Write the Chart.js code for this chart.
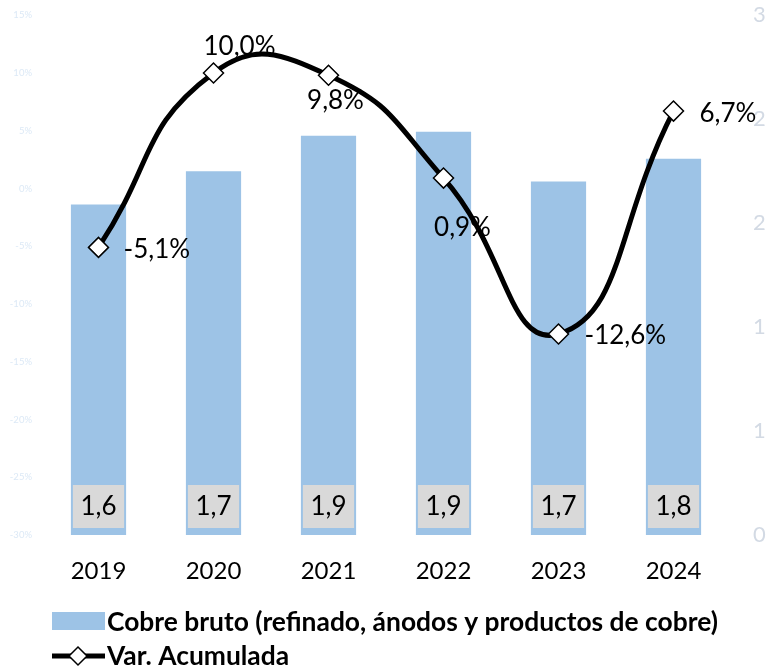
<!DOCTYPE html>
<html>
<head>
<meta charset="utf-8">
<script src="https://cdn.jsdelivr.net/npm/chart.js@4"></script>
<style>
  html, body { margin: 0; padding: 0; background: #fff; }
  canvas { display: block; }
</style>
</head>
<body>
<canvas id="cobreChart" width="774" height="668"></canvas>
<script>
const years = ['2019', '2020', '2021', '2022', '2023', '2024'];
const cobreBruto = [1.59, 1.75, 1.92, 1.94, 1.70, 1.81];
const cobreLabels = ['1,6', '1,7', '1,9', '1,9', '1,7', '1,8'];
const varAcumulada = [-5.1, 10.0, 9.8, 0.9, -12.6, 6.7];
const pctTicks = [-30, -25, -20, -15, -10, -5, 0, 5, 10, 15];
const valTicks = [0, 0.5, 1, 1.5, 2, 2.5];

const FONT = 'Lato, "Open Sans", sans-serif';
const BAR_BLUE = '#9dc3e6';

// where each % label sits relative to its point
const pctLabelPos = [
  { dx: 25, dy: 2, align: 'left' },
  { dx: 26, dy: -26, align: 'center' },
  { dx: 7, dy: 25, align: 'center' },
  { dx: 19, dy: 50, align: 'center' },
  { dx: 26, dy: 2, align: 'left' },
  { dx: 26, dy: 3, align: 'left' },
];

const labelPlugin = {
  id: 'labelPlugin',
  afterDatasetDraw(chart, args) {
    if (args.index !== 0) return;
    const c = chart.ctx;
    c.save();
    args.meta.data.forEach((bar, i) => {
      const w = bar.width;
      c.fillStyle = '#d9d9d9';
      c.fillRect(bar.x - w / 2 + 2, bar.base - 50, w - 4, 43);
      c.fillStyle = '#000';
      c.font = '26px ' + FONT;
      c.textAlign = 'center';
      c.textBaseline = 'middle';
      c.fillText(cobreLabels[i], bar.x, bar.base - 28);
    });
    c.restore();
  },
  afterDatasetsDraw(chart) {
    const c = chart.ctx;
    const meta = chart.getDatasetMeta(1);
    c.save();
    c.fillStyle = '#000';
    c.font = '26px ' + FONT;
    c.textBaseline = 'middle';
    meta.data.forEach((pt, i) => {
      const p = pctLabelPos[i];
      c.textAlign = p.align;
      c.fillText(varAcumulada[i].toFixed(1).replace('.', ',') + '%', pt.x + p.dx, pt.y + p.dy);
    });
    c.restore();
  },
  afterDraw(chart) {
    const c = chart.ctx;
    c.save();
    // bar legend
    c.fillStyle = BAR_BLUE;
    c.fillRect(52, 612, 53, 18);
    c.fillStyle = '#000';
    c.font = 'bold 26.4px ' + FONT;
    c.textAlign = 'left';
    c.textBaseline = 'middle';
    c.fillText('Cobre bruto (refinado, ánodos y productos de cobre)', 107, 622);
    // line legend
    c.strokeStyle = '#000';
    c.lineWidth = 5;
    c.beginPath();
    c.moveTo(52, 656);
    c.lineTo(105, 656);
    c.stroke();
    c.fillStyle = '#fff';
    c.lineWidth = 1.5;
    c.beginPath();
    c.moveTo(78, 647);
    c.lineTo(87, 656);
    c.lineTo(78, 665);
    c.lineTo(69, 656);
    c.closePath();
    c.fill();
    c.stroke();
    c.fillStyle = '#000';
    c.fillText('Var. Acumulada', 107, 656);
    c.restore();
  },
};

const ctx = document.getElementById('cobreChart').getContext('2d');
const cobreChart = new Chart(ctx, {
  type: 'bar',
  data: {
    labels: years,
    datasets: [
      {
        label: 'Cobre bruto (refinado, ánodos y productos de cobre)',
        data: cobreBruto,
        backgroundColor: BAR_BLUE,
        yAxisID: 'yVal',
        categoryPercentage: 1,
        barPercentage: 0.48,
        order: 1,
      },
      {
        type: 'line',
        label: 'Var. Acumulada',
        data: varAcumulada,
        borderColor: '#000',
        borderWidth: 5,
        tension: 0.5,
        pointStyle: 'rectRot',
        pointRadius: 10,
        pointBackgroundColor: '#fff',
        pointBorderColor: '#000',
        pointBorderWidth: 1.5,
        yAxisID: 'yPct',
        order: 0,
      },
    ],
  },
  options: {
    responsive: false,
    animation: false,
    layout: { padding: { top: 0, bottom: 73, left: 0, right: 0 } },
    plugins: {
      legend: { display: false },
      tooltip: { enabled: false },
    },
    scales: {
      x: {
        grid: { display: false, drawTicks: true, tickLength: 20 },
        border: { display: false },
        ticks: { color: '#000', font: { family: FONT, size: 24 }, padding: 2 },
        afterFit: (s) => { s.height = 60; },
      },
      yPct: {
        position: 'left',
        min: -30,
        max: 15,
        grid: { display: false, drawTicks: true, tickLength: 7 },
        border: { display: false },
        afterBuildTicks: (s) => { s.ticks = pctTicks.map((v) => ({ value: v })); },
        ticks: {
          color: '#dce9f6',
          font: { family: FONT, size: 9.5 },
          padding: 2,
          callback: (v) => v + '%',
        },
        afterFit: (s) => { s.width = 41; },
      },
      yVal: {
        position: 'right',
        min: 0,
        max: 2.5,
        grid: { display: false, drawTicks: true, tickLength: 20 },
        border: { display: false },
        afterBuildTicks: (s) => { s.ticks = valTicks.map((v) => ({ value: v })); },
        ticks: {
          color: '#d3dae4',
          font: { family: FONT, size: 22 },
          padding: 2,
          callback: (v) => String(Math.round(v)),
        },
        afterFit: (s) => { s.width = 43; },
      },
    },
  },
  plugins: [labelPlugin],
});
</script>
</body>
</html>
